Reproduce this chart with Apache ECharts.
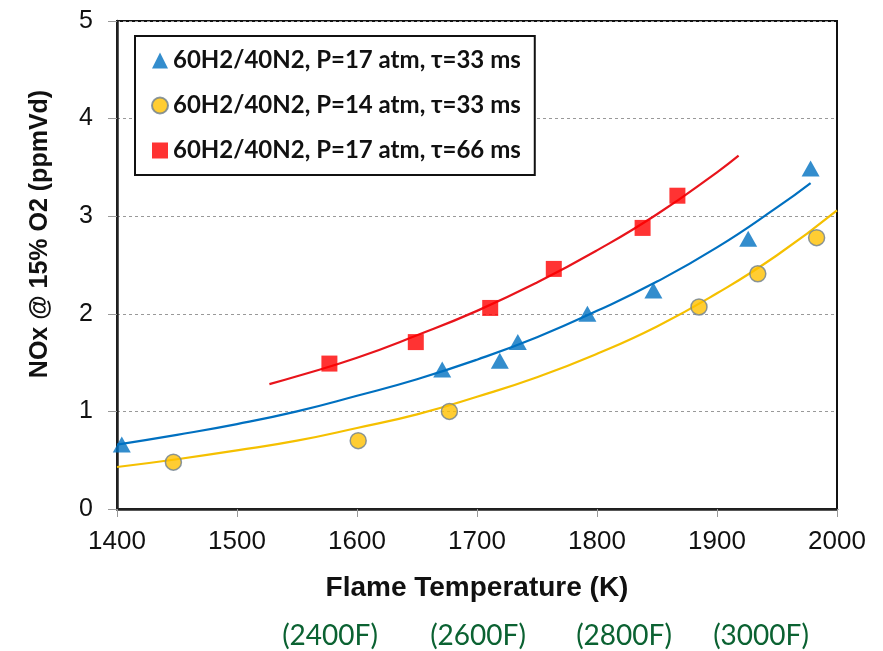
<!DOCTYPE html>
<html>
<head>
<meta charset="utf-8">
<script src="https://cdn.jsdelivr.net/npm/echarts@6/dist/echarts.min.js"></script>
<style>html,body{margin:0;padding:0;background:#fff;}#chart{width:883px;height:651px;}</style>
</head>
<body>
<div id="chart"></div>
<script>
// Series names
const seriesNames = ['60H2/40N2, P=17 atm, τ=33 ms', '60H2/40N2, P=14 atm, τ=33 ms', '60H2/40N2, P=17 atm, τ=66 ms'];

// Measured points (Flame temperature K, NOx ppmVd)
const tempBlue = [1404, 1671, 1719, 1734, 1792, 1847, 1926, 1978];
const noxBlue  = [0.66, 1.43, 1.52, 1.71, 2.00, 2.24, 2.77, 3.49];
const tempYellow = [1447, 1601, 1677, 1885, 1934, 1983];
const noxYellow  = [0.48, 0.70, 1.00, 2.07, 2.41, 2.78];
const tempRed = [1577, 1649, 1711, 1764, 1838, 1867];
const noxRed  = [1.49, 1.71, 2.06, 2.46, 2.88, 3.21];

// Trend lines
const trendBlueT = [1400, 1450, 1500, 1550, 1600, 1650, 1700, 1750, 1800, 1850, 1900, 1950, 1978];
const trendBlueY = [0.66, 0.76, 0.87, 1.00, 1.16, 1.33, 1.53, 1.76, 2.03, 2.33, 2.68, 3.09, 3.34];
const trendYellowT = [1400, 1450, 1500, 1550, 1600, 1650, 1700, 1750, 1800, 1850, 1900, 1950, 2000];
const trendYellowY = [0.43, 0.51, 0.60, 0.70, 0.83, 0.97, 1.15, 1.35, 1.59, 1.87, 2.21, 2.60, 3.06];
const trendRedT = [1527, 1550, 1600, 1650, 1700, 1750, 1800, 1850, 1900, 1918];
const trendRedY = [1.28, 1.36, 1.55, 1.78, 2.03, 2.32, 2.65, 3.02, 3.45, 3.62];

// Axis ticks
const xMin = 1400, xMax = 2000, xStep = 100;
const yMin = 0, yMax = 5, yStep = 1;

// Fahrenheit annotations
const fahrenheitLabels = ['(2400F)', '(2600F)', '(2800F)', '(3000F)'];
const fahrenheitX = [330, 478, 624, 761];

const zip = (a, b) => a.map((v, i) => [v, b[i]]);

const chart = echarts.init(document.getElementById('chart'));
const blue = '#0070C0', yellow = '#FFC000', red = '#FF0000';

const option = {
  backgroundColor: '#fff',
  animation: false,
  grid: { left: 117, right: 46, top: 21, bottom: 142, show: true, borderColor: '#111', borderWidth: 2 },
  xAxis: {
    type: 'value', min: xMin, max: xMax, interval: xStep,
    name: 'Flame Temperature (K)', nameLocation: 'middle', nameGap: 65,
    nameTextStyle: { fontSize: 28, fontWeight: 'bold', color: '#111', fontFamily: 'Liberation Sans' },
    axisLine: { show: true, lineStyle: { color: '#222', width: 2.5 } },
    axisTick: { show: true, inside: false, length: 8, lineStyle: { color: '#999' } },
    axisLabel: { fontSize: 26, color: '#111', margin: 20, fontFamily: 'Liberation Sans', formatter: v => String(v) },
    splitLine: { show: false }
  },
  yAxis: {
    type: 'value', min: yMin, max: yMax, interval: yStep,
    axisLine: { show: true, lineStyle: { color: '#222', width: 2.5 } },
    axisTick: { show: true, inside: false, length: 9, lineStyle: { color: '#999' } },
    axisLabel: { fontSize: 25, color: '#111', margin: 24, fontFamily: 'Liberation Sans', formatter: v => String(v) },
    splitLine: { show: true, lineStyle: { color: '#999', type: [3, 3], width: 1 } }
  },
  legend: {
    orient: 'vertical', left: 135, top: 36,
    padding: [12, 14, 12, 16], itemGap: 20, itemWidth: 16, itemHeight: 16,
    borderColor: '#111', borderWidth: 2, backgroundColor: '#fff',
    textStyle: { fontSize: 24, fontWeight: 'bold', color: '#111', fontFamily: 'Lato', lineHeight: 25 },
    data: seriesNames
  },
  graphic: [
    {
      type: 'text', x: 40, y: 234, rotation: Math.PI / 2,
      style: { text: 'NOx @ 15% O2 (ppmVd)', align: 'center', verticalAlign: 'middle',
        fontSize: 25, fontWeight: 'bold', fontFamily: 'Liberation Sans', fill: '#111' }
    }
  ].concat(fahrenheitLabels.map((t, i) => ({
    type: 'text', x: fahrenheitX[i], y: 636,
    style: { text: t, align: 'center', verticalAlign: 'middle', fontSize: 28, fontFamily: 'Lato', fill: '#0B6232' }
  }))),
  series: [
    { name: 'trendBlue', type: 'line', data: zip(trendBlueT, trendBlueY), smooth: true, showSymbol: false, silent: true,
      lineStyle: { color: blue, width: 2.2 }, z: 2 },
    { name: 'trendYellow', type: 'line', data: zip(trendYellowT, trendYellowY), smooth: true, showSymbol: false, silent: true,
      lineStyle: { color: '#F5C000', width: 2.2 }, z: 2 },
    { name: 'trendRed', type: 'line', data: zip(trendRedT, trendRedY), smooth: true, showSymbol: false, silent: true,
      lineStyle: { color: '#E8141B', width: 2.2 }, z: 2 },
    { name: seriesNames[0], type: 'scatter', data: zip(tempBlue, noxBlue), symbol: 'triangle', symbolSize: [18, 16],
      itemStyle: { color: blue }, z: 5 },
    { name: seriesNames[1], type: 'scatter', data: zip(tempYellow, noxYellow), symbol: 'circle', symbolSize: 16,
      itemStyle: { color: yellow, borderColor: '#6E7F91', borderWidth: 1.5 }, z: 5 },
    { name: seriesNames[2], type: 'scatter', data: zip(tempRed, noxRed), symbol: 'rect', symbolSize: 16,
      itemStyle: { color: red }, z: 5 }
  ]
};
chart.setOption(option);
</script>
</body>
</html>
